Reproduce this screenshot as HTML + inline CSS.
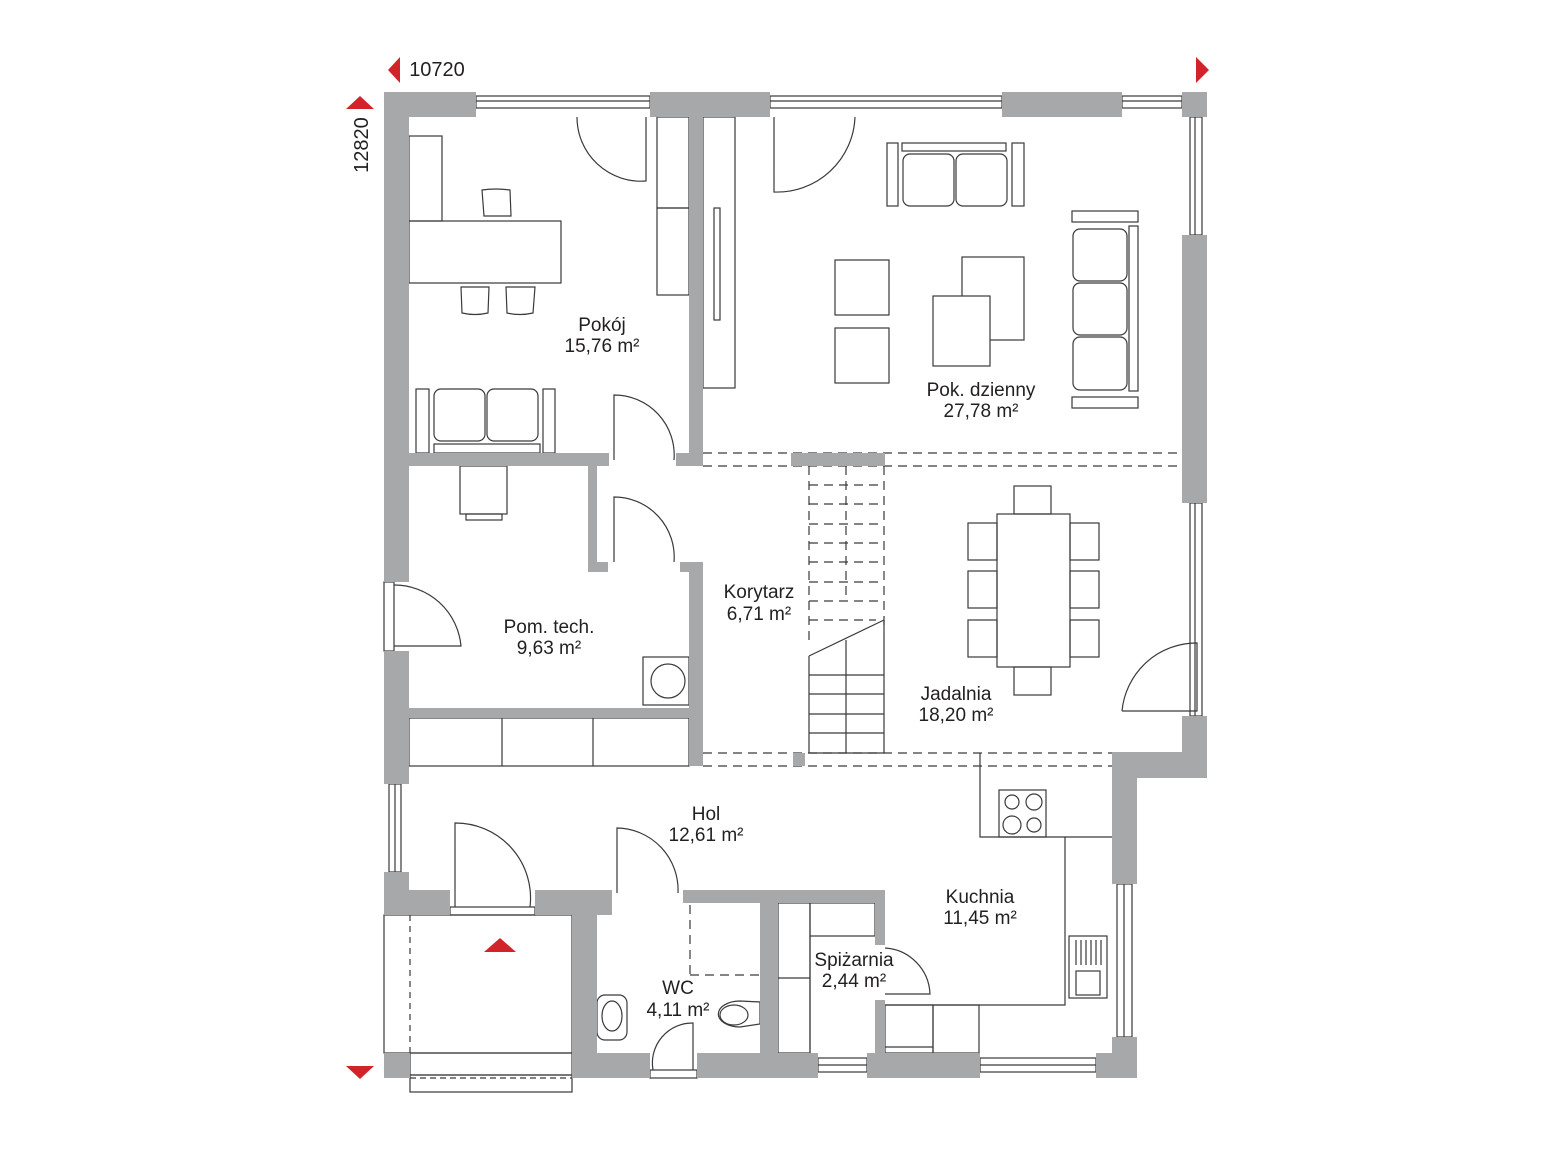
<!DOCTYPE html>
<html><head><meta charset="utf-8"><style>
html,body{margin:0;padding:0;background:#fff;}
svg{display:block}
text{font-family:"Liberation Sans",sans-serif;font-size:19px;fill:#231f20;text-anchor:middle}
</style></head><body>
<svg width="1556" height="1167" viewBox="0 0 1556 1167" xmlns="http://www.w3.org/2000/svg">
<g fill="none" stroke="#3a3a3a" stroke-width="1.2">
<!-- windows -->
<rect x="476" y="96" width="174" height="12"/><line x1="476" y1="101" x2="650" y2="101"/>
<rect x="770" y="96" width="232" height="12"/><line x1="770" y1="101" x2="1002" y2="101"/>
<rect x="1122" y="96" width="60" height="12"/><line x1="1122" y1="101" x2="1182" y2="101"/>
<rect x="1190" y="117" width="12" height="118"/><line x1="1195" y1="117" x2="1195" y2="235"/>
<rect x="1190" y="503" width="12" height="213"/><line x1="1195" y1="503" x2="1195" y2="716"/>
<rect x="1117" y="884" width="15" height="153"/><line x1="1124" y1="884" x2="1124" y2="1037"/>
<rect x="980" y="1058" width="116" height="14"/><line x1="980" y1="1065" x2="1096" y2="1065"/>
<rect x="818" y="1058" width="49" height="14"/><line x1="818" y1="1065" x2="867" y2="1065"/>
<rect x="389" y="784" width="12" height="88"/><line x1="395" y1="784" x2="395" y2="872"/>
<rect x="410" y="1053" width="162" height="22"/><rect x="410" y="1075" width="162" height="17"/>
<line x1="410" y1="1078" x2="572" y2="1078" stroke-dasharray="6,4"/>
<rect x="650" y="1070" width="47" height="8"/>
<rect x="450" y="907" width="85" height="8"/>
<rect x="384" y="582" width="10" height="69"/>
<!-- entrance area -->
<rect x="384" y="915" width="188" height="138"/>
<line x1="410" y1="915" x2="410" y2="1053" stroke-dasharray="6,5"/>
<!-- doors -->
<path d="M646 117 V181 A64 64 0 0 1 577 117"/>
<path d="M774 117 V192 A78 78 0 0 0 855 117"/>
<path d="M614 460 V395 A60 60 0 0 1 674 460"/>
<path d="M614 562 V497 A60 60 0 0 1 674 562"/>
<path d="M394 646 H461 A67 67 0 0 0 394 585"/>
<path d="M455 907 V823 A75 75 0 0 1 530 907"/>
<path d="M617 893 V828 A62 62 0 0 1 678 893"/>
<path d="M653 1070 A40 40 0 0 1 693 1023 V1070"/>
<path d="M885 994 H930 A48 48 0 0 0 885 948"/>
<path d="M1122 711 H1197 V643 A75 75 0 0 0 1122 711"/>
<!-- Pokoj furniture -->
<rect x="409" y="136" width="33" height="85"/>
<rect x="409" y="221" width="152" height="62"/>
<path d="M484 216 L482 190 Q496 188 510 190 L511 216 Z"/>
<path d="M461 287 L462 313 Q475 316 488 313 L489 287 Z"/>
<path d="M506 287 L507 313 Q520 316 533 313 L535 287 Z"/>
<rect x="416" y="389" width="13" height="64"/><rect x="543" y="389" width="12" height="64"/>
<rect x="434" y="389" width="51" height="52" rx="7"/><rect x="487" y="389" width="51" height="52" rx="7"/>
<rect x="434" y="444" width="106" height="9"/>
<rect x="657" y="117" width="32" height="91"/><rect x="657" y="208" width="32" height="87"/>
<rect x="703" y="117" width="32" height="271"/><rect x="714" y="208" width="6" height="112"/>
<!-- living -->
<rect x="887" y="143" width="11" height="63"/><rect x="1012" y="143" width="12" height="63"/>
<rect x="902" y="143" width="104" height="8"/>
<rect x="903" y="154" width="51" height="52" rx="7"/><rect x="956" y="154" width="51" height="52" rx="7"/>
<rect x="835" y="260" width="54" height="55"/><rect x="835" y="328" width="54" height="55"/>
<rect x="962" y="257" width="62" height="83"/>
<rect x="933" y="296" width="57" height="70" fill="#fff"/>
<rect x="1072" y="211" width="66" height="11"/><rect x="1072" y="397" width="66" height="11"/>
<rect x="1129" y="226" width="9" height="165"/>
<rect x="1073" y="229" width="54" height="52" rx="7"/><rect x="1073" y="283" width="54" height="52" rx="7"/><rect x="1073" y="337" width="54" height="53" rx="7"/>
<!-- tech -->
<rect x="460" y="466" width="47" height="48"/><rect x="466" y="514" width="36" height="6"/>
<rect x="643" y="657" width="46" height="48"/><circle cx="668" cy="681" r="17"/>
<rect x="409" y="718" width="280" height="48"/><line x1="502" y1="718" x2="502" y2="766"/><line x1="593" y1="718" x2="593" y2="766"/>
<!-- dashed lines -->
<g stroke-dasharray="9,6">
<line x1="703" y1="453" x2="1182" y2="453"/><line x1="703" y1="466" x2="1182" y2="466"/>
<line x1="703" y1="753" x2="1112" y2="753"/><line x1="703" y1="766" x2="1112" y2="766"/>
<path d="M809 466 V640 M884 466 V628 M846 466 V600"/>
<path d="M809 485 H884 M809 504 H884 M809 524 H884 M809 543 H884 M809 562 H884 M809 582 H884 M809 601 H884 M809 620 H876"/>
<line x1="690" y1="905" x2="690" y2="975"/><line x1="690" y1="975" x2="760" y2="975"/>
</g>
<!-- stairs -->
<line x1="809" y1="656" x2="884" y2="620"/>
<path d="M809 656 V753 H884 V620 M846 640 V753"/>
<path d="M809 675 H884 M809 694 H884 M809 714 H884 M809 733 H884"/>
<!-- dining -->
<rect x="997" y="514" width="73" height="153"/>
<rect x="1014" y="486" width="37" height="28"/><rect x="1014" y="667" width="37" height="28"/>
<rect x="968" y="523" width="29" height="37"/><rect x="968" y="571" width="29" height="37"/><rect x="968" y="620" width="29" height="37"/>
<rect x="1070" y="523" width="29" height="37"/><rect x="1070" y="571" width="29" height="37"/><rect x="1070" y="620" width="29" height="37"/>
<!-- kitchen -->
<path d="M980 753 V837 H1065 V1005 H885"/>
<line x1="1065" y1="837" x2="1112" y2="837"/>
<rect x="999" y="790" width="47" height="47"/>
<circle cx="1012" cy="802" r="7"/><circle cx="1034" cy="802" r="8"/><circle cx="1012" cy="825" r="9"/><circle cx="1034" cy="825" r="7"/>
<rect x="1069" y="936" width="38" height="62"/><rect x="1076" y="971" width="24" height="24"/>
<path d="M1076 940 V965 M1081 940 V965 M1086 940 V965 M1091 940 V965 M1096 940 V965 M1101 940 V965"/>
<rect x="885" y="1005" width="48" height="48"/><rect x="933" y="1005" width="46" height="48"/>
<line x1="885" y1="1047" x2="933" y2="1047"/>
<!-- spizarnia -->
<rect x="778" y="903" width="32" height="150"/><line x1="778" y1="978" x2="810" y2="978"/>
<rect x="810" y="903" width="65" height="33"/><line x1="810" y1="936" x2="810" y2="1053"/>
<!-- WC -->
<rect x="597" y="995" width="30" height="45" rx="8"/><ellipse cx="612" cy="1016" rx="10" ry="15"/>
<path d="M760 1002 V1024 L740 1027 A20 12 0 1 1 740 1001 Z"/><ellipse cx="734" cy="1015" rx="14" ry="10"/>
</g>
<!-- walls -->
<g fill="#a7a8aa">
<rect x="384" y="92" width="92" height="25"/><rect x="384" y="92" width="25" height="490"/>
<rect x="650" y="92" width="120" height="25"/><rect x="1002" y="92" width="120" height="25"/>
<rect x="1182" y="92" width="25" height="25"/><rect x="1182" y="235" width="25" height="268"/>
<rect x="1182" y="716" width="25" height="62"/><rect x="1112" y="752" width="95" height="26"/>
<rect x="1112" y="752" width="25" height="132"/><rect x="1112" y="1037" width="25" height="41"/>
<rect x="1096" y="1053" width="41" height="25"/><rect x="867" y="1053" width="113" height="25"/>
<rect x="697" y="1053" width="121" height="25"/><rect x="572" y="1053" width="78" height="25"/>
<rect x="384" y="1053" width="26" height="25"/>
<rect x="384" y="651" width="25" height="133"/>
<rect x="384" y="872" width="25" height="43"/><rect x="384" y="890" width="66" height="25"/>
<rect x="535" y="890" width="77" height="25"/><rect x="572" y="890" width="25" height="188"/>
<rect x="409" y="453" width="200" height="13"/><rect x="588" y="453" width="9" height="119"/><rect x="588" y="562" width="20" height="10"/>
<rect x="689" y="117" width="14" height="349"/><rect x="676" y="453" width="27" height="13"/>
<rect x="689" y="562" width="14" height="204"/><rect x="680" y="562" width="23" height="10"/>
<rect x="409" y="708" width="280" height="10"/>
<rect x="791" y="453" width="94" height="13"/><rect x="793" y="753" width="12" height="13"/>
<rect x="683" y="890" width="202" height="13"/><rect x="875" y="890" width="10" height="55"/>
<rect x="760" y="903" width="18" height="150"/><rect x="875" y="1000" width="10" height="53"/>
</g>
<!-- red markers -->
<g fill="#d2232a">
<polygon points="400,57 400,83 388,70"/>
<polygon points="1196,57 1196,83 1209,70"/>
<polygon points="346,109 374,109 360,96"/>
<polygon points="346,1066 374,1066 360,1079"/>
<polygon points="484,952 516,952 500,938"/>
</g>
<text x="437" y="76" style="font-size:20px">10720</text>
<text transform="translate(368,145) rotate(-90)" style="font-size:20px">12820</text>
<text x="602" y="331">Pokój</text><text x="602" y="352">15,76 m²</text>
<text x="981" y="396">Pok. dzienny</text><text x="981" y="417">27,78 m²</text>
<text x="759" y="598">Korytarz</text><text x="759" y="620">6,71 m²</text>
<text x="549" y="633">Pom. tech.</text><text x="549" y="654">9,63 m²</text>
<text x="956" y="700">Jadalnia</text><text x="956" y="721">18,20 m²</text>
<text x="706" y="820">Hol</text><text x="706" y="841">12,61 m²</text>
<text x="980" y="903">Kuchnia</text><text x="980" y="924">11,45 m²</text>
<text x="854" y="966">Spiżarnia</text><text x="854" y="987">2,44 m²</text>
<text x="678" y="994">WC</text><text x="678" y="1016">4,11 m²</text>
</svg>
</body></html>
